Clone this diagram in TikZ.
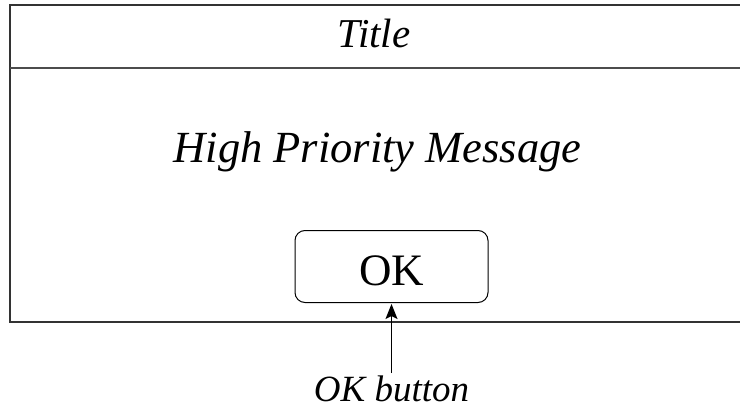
\documentclass[tikz,border=0pt]{standalone}
\usepackage{fontspec}
\setmainfont{Liberation Serif}
\usetikzlibrary{arrows,arrows.meta,shapes}
\usetikzlibrary{positioning}
\tikzstyle{label} = [font=\fontsize{36}{40}\selectfont\itshape, inner sep=0pt,
    anchor=base]
\tikzstyle{button} = [draw, rounded corners=10pt, line width=1pt,
    minimum width=193pt, minimum height=72pt, inner sep=0pt]

\begin{document}
\begin{tikzpicture}[x=1pt, y=-1pt]
  \useasboundingbox (0,0) rectangle (740,415);
  % Frame
  \draw [line width=1.6pt, black!80] (10,5) rectangle (760,322);
  \draw [line width=1.6pt, black!70] (10,68) -- (760,68);
  % Place nodes
  \node [label, font=\fontsize{41}{46}\selectfont\itshape] (title) at (374,47.5) {Title};
  \node [label, font=\fontsize{44.5}{50}\selectfont\itshape] (msg) at (377.5,162) {High Priority Message};
  \node [button] (okbtn) at (391.5,266.5) {};
  \node [anchor=base, inner sep=0pt, font=\fontsize{45}{50}\selectfont]
    (oktext) at (okbtn.center |- 0,285) {OK};
  \node [label, font=\fontsize{37}{42}\selectfont\itshape] (oklabel) at (391.5,401) {OK button};
  \draw [-{Stealth[length=15pt,width=12pt,inset=3pt]}, line width=1.3pt,
    shorten >=1pt] ([yshift=28pt]oklabel.base -| okbtn.south) -- (okbtn.south);
\end{tikzpicture}
\end{document}
